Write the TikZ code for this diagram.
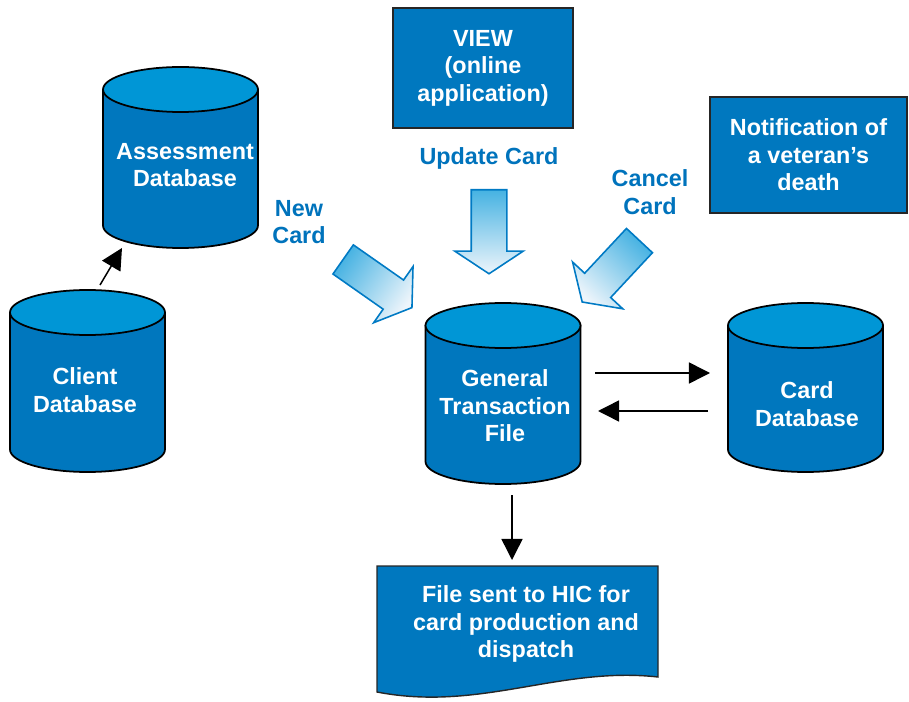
\documentclass[tikz,border=0pt]{standalone}
\usepackage{fontspec}
\setmainfont{Liberation Sans}
\usetikzlibrary{shapes.arrows,arrows.meta,calc,positioning}

\definecolor{dbbody}{RGB}{0,119,190}
\definecolor{dbtop}{RGB}{0,150,214}
\definecolor{boxblue}{RGB}{0,120,191}
\definecolor{labelblue}{RGB}{0,115,188}
\definecolor{arrowedge}{RGB}{0,122,196}
\definecolor{arrowdark}{RGB}{70,178,226}
\definecolor{arrowlight}{RGB}{238,245,251}

\tikzset{
  every node/.style={font=\fontsize{13.3}{15.6}\selectfont\bfseries, align=center},
  dbshape/.style={draw=black, line width=1pt},
  dblabel/.style={text=white},
  infobox/.style={rectangle, draw=black!85, line width=0.8pt, fill=boxblue, text=white, inner sep=2pt},
  cardlabel/.style={text=labelblue},
  blockarrow/.style={single arrow, draw=arrowedge, line width=0.9pt, minimum height=1.68cm,
    inner xsep=0pt, inner ysep=0.34cm, single arrow head extend=0.33cm, single arrow tip angle=113,
    anchor=tail, top color=arrowdark, bottom color=arrowlight},
  flow/.style={-{Triangle[length=12pt,width=12pt]}, line width=0.85pt}
}

% database drum: centre x, top y, bottom y
\newcommand{\dbdrum}[3]{%
  \path[dbshape, fill=dbbody] (#1-77.5,#2+22.5) -- (#1-77.5,#3-22.5)
    arc[start angle=180, end angle=360, x radius=1.55cm, y radius=0.45cm] -- (#1+77.5,#2+22.5) -- cycle;
  \path[dbshape, fill=dbtop] (#1,#2+22.5) ellipse[x radius=1.55cm, y radius=0.45cm];
}

\begin{document}
\begin{tikzpicture}[x=0.02cm, y=-0.02cm]
  \useasboundingbox (0,0) rectangle (909,702);

  % databases
  \dbdrum{180.5}{67}{248}
  \dbdrum{87.5}{290}{472}
  \dbdrum{503}{303}{484}
  \dbdrum{805.5}{303}{472}
  \node[dblabel] (assess) at (185,165) {Assessment\\Database};
  \node[dblabel] (client) at (85,390) {Client\\Database};
  \node[dblabel] (gtf) at (505,406) {General\\Transaction\\File};
  \node[dblabel] (card) at (807,404) {Card\\Database};

  % sources
  \node[infobox, minimum width=3.6cm, minimum height=2.4cm] (view) at (483,68) {VIEW\\(online\\application)};
  \node[infobox, minimum width=3.94cm, minimum height=2.32cm] (death) at (808.5,155) {Notification of\\a veteran’s\\death};

  % labels
  \node[cardlabel] (newlbl) at (299,222) {New\\Card};
  \node[cardlabel] (updlbl) at (489,158) {Update Card};
  \node[cardlabel] (canlbl) at (650,192) {Cancel\\Card};

  % block arrows
  \node[blockarrow, rotate=-35, shading angle=55] (newarr) at (342.5,259) {};
  \node[blockarrow, rotate=-90, shading angle=0] (updarr) at (489,189) {};
  \node[blockarrow, rotate=-133, shading angle=-43] (canarr) at (640,240) {};

  % output file
  \path[fill=boxblue, draw=black!85, line width=0.8pt]
    (377,566) -- (658,566) -- (658,677) .. controls (560,666) and (480,712) .. (377,692) -- cycle;
  \node[text=white] (doc) at (526,624) {File sent to HIC for\\card production and\\dispatch};
  \coordinate (docin) at (512,560);

  % flows
  \draw[flow] ($(client)+(15,-105)$) -- ($(assess)+(-63,83)$);
  \draw[flow] ($(gtf)+(90,-33)$) -- ($(card)+(-97,-31)$);
  \draw[flow] ($(card)+(-99,7)$) -- ($(gtf)+(93,5)$);
  \draw[flow] ($(gtf)+(7,89)$) -- (docin);
\end{tikzpicture}
\end{document}
